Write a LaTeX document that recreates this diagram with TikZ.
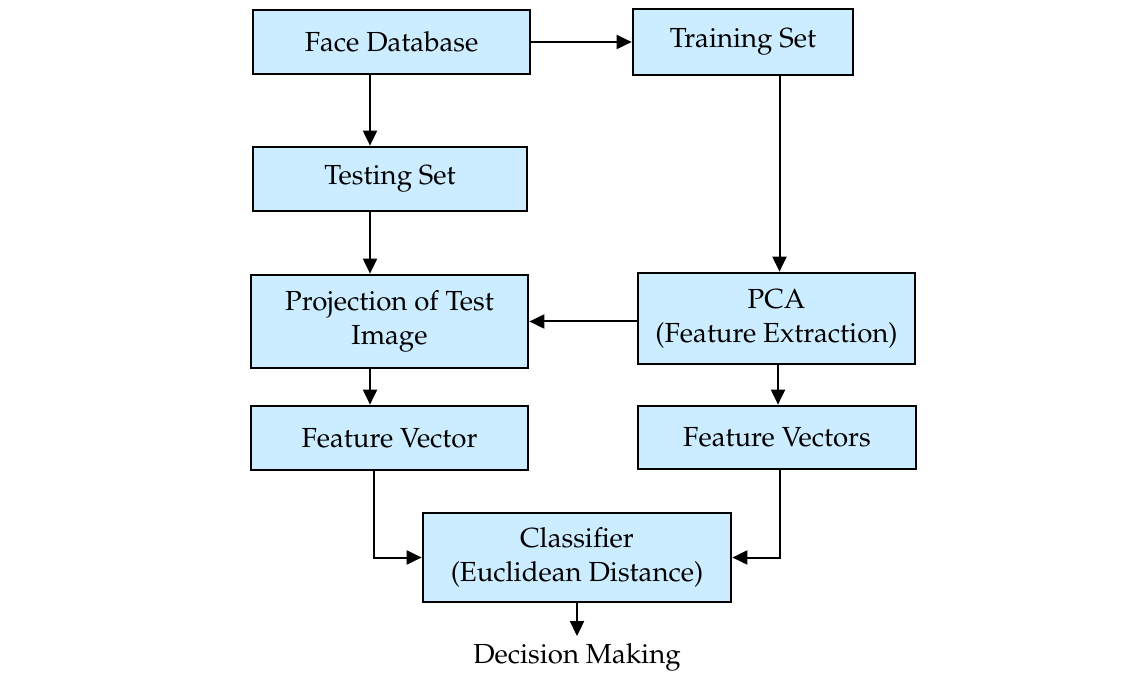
\documentclass[tikz,border=0pt]{standalone}
\usepackage[T1]{fontenc}
\usepackage{mathpazo}
\usetikzlibrary{arrows.meta}

\definecolor{boxblue}{RGB}{204,236,255}

\begin{document}
\begin{tikzpicture}[x=0.5pt,y=-0.5pt,
    block/.style={draw,line width=1.35pt,fill=boxblue,align=center,
      inner sep=0pt,font=\fontsize{13.8}{17}\selectfont},
    label/.style={font=\fontsize{13.8}{17}\selectfont},
    conn/.style={line width=1pt,-{Triangle[length=7.5pt,width=7pt]}}]
      \useasboundingbox (0,0) rectangle (1145,673);

      % upper row
      \node[block,minimum width=138.5pt,minimum height=32pt] (facedb) at (391.5,42) {Face Database};
      \node[block,minimum width=110pt,minimum height=33pt] (trainset) at (743,42) {Training Set};
      \node[block,minimum width=137pt,minimum height=32pt] (testset) at (390,179) {Testing Set};

      % middle row
      \node[block,minimum width=138.5pt,minimum height=46.5pt] (project) at (389.5,321.5) {Projection of Test\\Image};
      \node[block,minimum width=138.5pt,minimum height=45.5pt] (pca) at (776.5,318.5) {PCA\\(Feature Extraction)};
      \node[block,minimum width=138.5pt,minimum height=32pt] (featvec) at (389.5,438) {Feature Vector};
      \node[block,minimum width=139pt,minimum height=31.5pt] (featvecs) at (777,437.5) {Feature Vectors};

      % bottom
      \node[block,minimum width=154pt,minimum height=44.5pt] (classify) at (577,557.5) {Classifier\\(Euclidean Distance)};
      \node[label] (decide) at (577,657) {Decision Making};

      % connectors
      \draw[conn] (facedb) -- (trainset);
      \draw[conn] ([xshift=-10.75pt]facedb.south) coordinate (c1) -- (c1 |- testset.north);
      \draw[conn] ([xshift=-10pt]testset.south) coordinate (c2) -- (c2 |- project.north);
      \draw[conn] ([xshift=1.5pt]pca.north |- trainset.south) coordinate (c3) -- (c3 |- pca.north);
      \draw[conn] (pca.west |- project.east) -- (project.east);
      \draw[conn] ([xshift=-9.75pt]project.south) coordinate (c4) -- (c4 |- featvec.north);
      \draw[conn] ([xshift=0.75pt]pca.south) coordinate (c5) -- (c5 |- featvecs.north);
      \draw[conn] ([xshift=-8pt]featvec.south) |- (classify.west);
      \draw[conn] ([xshift=1.5pt]featvecs.south) |- (classify.east);
      \draw[conn] (classify.south) -- (decide.north);
    \end{tikzpicture}
\end{document}
